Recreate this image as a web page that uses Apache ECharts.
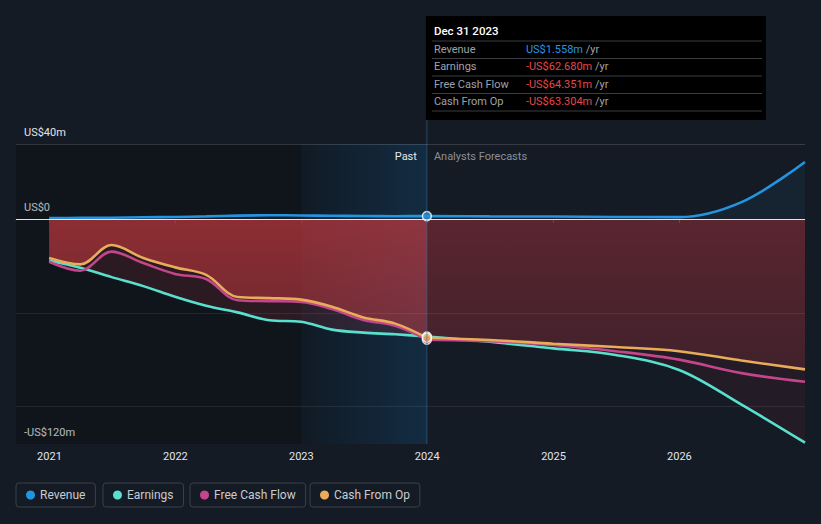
<!DOCTYPE html>
<html><head><meta charset="utf-8">
<script src="https://cdn.jsdelivr.net/npm/echarts@6/dist/echarts.min.js"></script>
<style>html,body{margin:0;padding:0;background:#151b24;}#c{width:821px;height:524px;}</style>
</head><body><div id="c"></div>
<script>
// ---------- data (US$ millions) ----------
const pastDates = ['2020-12-31','2021-03-31','2021-06-30','2021-09-30','2021-12-31','2022-03-31','2022-06-30','2022-09-30','2022-12-31','2023-03-31','2023-06-30','2023-09-30','2023-12-31'];
const revenuePast  = [0.5, 0.6, 0.7, 0.9, 1.1, 1.4, 1.8, 2.0, 1.9, 1.7, 1.6, 1.5, 1.558];
const earningsPast = [-22.3, -26.0, -31.0, -35.8, -41.5, -46.3, -49.8, -54.0, -54.8, -59.0, -60.6, -61.5, -62.68];
const fcfPast      = [-22.8, -27.6, -17.4, -23.5, -29.3, -32.0, -43.3, -43.8, -44.2, -48.0, -53.8, -57.0, -64.351];
const cfoPast      = [-20.8, -24.2, -13.9, -20.8, -25.8, -29.8, -41.6, -42.2, -43.0, -46.8, -52.5, -55.8, -63.304];

const forecastDates = ['2023-12-31','2024-06-30','2024-12-31','2025-06-30','2025-12-31','2026-06-30','2026-12-31'];
const revenueFc  = [1.558, 1.4, 1.3, 1.1, 1.0, 9.0, 30.4];
const earningsFc = [-62.68, -65.5, -69.0, -72.5, -80.5, -99.0, -119.3];
const fcfFc      = [-64.351, -65.2, -67.2, -70.5, -75.0, -82.2, -86.8];
const cfoFc      = [-63.304, -64.5, -66.5, -68.3, -70.5, -75.5, -80.2];

const yTickLabels = {40: 'US$40m', 0: 'US$0', '-120': '-US$120m'};
const gridValues = [40, -50, -100];
const xMin = '2020-09-26', xMax = '2026-12-31';
const pastShadeStart = '2023-01-01', nowDate = '2023-12-31';
const tooltipTitle = 'Dec 31 2023';
const seriesNames = ['Revenue', 'Earnings', 'Free Cash Flow', 'Cash From Op'];
const colors = ['#2394df', '#58e0cd', '#c4458a', '#e8ac5a'];

// ---------- chart ----------
const FONT = 'Roboto, "Noto Sans", sans-serif';
const chart = echarts.init(document.getElementById('c'), null, {renderer: 'svg'});
const zip = (d, v) => d.map((x, i) => [x, v[i]]);

function lineSeries(name, color, dates, vals, area, z) {
  const s = {
    name, type: 'line', color, data: zip(dates, vals), smooth: 0.35,
    symbol: 'none', z: z || 2, silent: true,
    lineStyle: {width: 2.6, color},
  };
  if (area) s.areaStyle = area;
  return s;
}
const grad = (a, b) => new echarts.graphic.LinearGradient(0, 0, 0, 1, [{offset: 0, color: a}, {offset: 1, color: b}]);

const series = [
  { name: 'bgDark', type: 'line', data: [], z: 1, silent: true,
    markArea: { silent: true, itemStyle: {color: 'rgba(0,0,0,0.2)'}, data: [[{xAxis: xMin}, {xAxis: nowDate}]] } },
  lineSeries('Revenue', colors[0], pastDates, revenuePast, {color: 'rgba(35,148,223,0.12)'}),
  lineSeries('Revenue', colors[0], forecastDates, revenueFc, {color: 'rgba(35,148,223,0.11)'}),
  lineSeries('Earnings', colors[1], pastDates, earningsPast, {color: 'rgba(200,60,80,0.22)'}),
  lineSeries('Earnings', colors[1], forecastDates, earningsFc, {color: 'rgba(200,40,50,0.12)'}),
  lineSeries('Free Cash Flow', colors[2], pastDates, fcfPast, null),
  lineSeries('Free Cash Flow', colors[2], forecastDates, fcfFc, null),
  lineSeries('Cash From Op', colors[3], pastDates, cfoPast, {color: grad('rgba(205,58,62,0.86)', 'rgba(200,58,62,0.62)')}),
  lineSeries('Cash From Op', colors[3], forecastDates, cfoFc, {color: grad('rgba(205,60,70,0.46)', 'rgba(200,60,70,0.26)')}),
  { name: 'overlay', type: 'line', data: [], z: 3, silent: true,
    markArea: { silent: true,
      itemStyle: {color: new echarts.graphic.LinearGradient(0, 0, 1, 0, [{offset: 0, color: 'rgba(33,150,243,0.04)'}, {offset: 1, color: 'rgba(33,150,243,0.18)'}])},
      data: [[{xAxis: pastShadeStart}, {xAxis: nowDate}]] },
    markLine: { silent: true, symbol: 'none', label: {show: false},
      data: gridValues.map(v => ({yAxis: v, lineStyle: {color: v === 40 ? 'rgba(255,255,255,0.15)' : 'rgba(255,255,255,0.08)', width: 1, type: 'solid'}}))
        .concat([{yAxis: 0, lineStyle: {color: 'rgba(255,240,240,0.9)', width: 1, type: 'solid'}}]) } },
  { name: 'markers', type: 'scatter', z: 4, silent: true, symbolSize: 9,
    data: [
      {value: [nowDate, earningsPast[12]], itemStyle: {color: colors[1]}},
      {value: [nowDate, fcfPast[12]], itemStyle: {color: colors[2]}},
      {value: [nowDate, cfoPast[12]], itemStyle: {color: colors[3]}},
      {value: [nowDate, revenuePast[12]], itemStyle: {color: colors[0]}},
    ],
    itemStyle: {borderColor: '#ffffff', borderWidth: 1.5} },
];

const legendLefts = [16, 103, 190, 310];
const legends = seriesNames.map((n, i) => ({
  data: [n], left: legendLefts[i], top: 483, selectedMode: false,
  icon: 'circle', itemWidth: 9, itemHeight: 9, itemGap: 0,
  textStyle: {color: '#c8ccd2', fontSize: 12, fontFamily: FONT},
  borderColor: '#3a4049', borderWidth: 1, borderRadius: 3, padding: [6, 10, 6, 10],
}));

chart.setOption({
  backgroundColor: '#151b24',
  animation: false,
  textStyle: {fontFamily: FONT},
  grid: {left: 16, right: 16, top: 144, bottom: 80},
  legend: legends,
  xAxis: {
    type: 'time', min: xMin, max: xMax, splitNumber: 6,
    axisLine: {show: true, lineStyle: {color: '#454a52', width: 1}},
    axisTick: {show: true, length: 4, lineStyle: {color: '#454a52'}},
    splitLine: {show: false},
    axisLabel: {
      color: '#e2e4e8', fontSize: 11, margin: 7, showMinLabel: false, showMaxLabel: false,
      formatter: v => { const d = new Date(v); return (d.getMonth() === 0 && d.getDate() === 1) ? String(d.getFullYear()) : ''; }
    },
  },
  yAxis: {
    type: 'value', min: -120, max: 40, interval: 40,
    axisLine: {show: false}, axisTick: {show: false}, splitLine: {show: false},
    axisLabel: {
      inside: true, margin: 8, color: '#e2e4e8', fontSize: 11, verticalAlign: 'bottom', padding: [0, 0, 6, 0],
      formatter: v => yTickLabels[v] || ''
    },
  },
  series,
});

// ---------- tooltip-like box & labels ----------
const x0 = chart.convertToPixel({xAxisIndex: 0}, nowDate);
const yBottom = chart.convertToPixel({yAxisIndex: 0}, -120);
const fmt = v => (v < 0 ? '-' : '') + 'US$' + Math.abs(v).toFixed(3) + 'm';
const rows = [
  ['Revenue', revenuePast[12]],
  ['Earnings', earningsPast[12]],
  ['Free Cash Flow', fcfPast[12]],
  ['Cash From Op', cfoPast[12]],
];
const bx = x0 - 1, by = 16, bw = 340, bh = 104;
const F11 = '11px ' + FONT;
const g = [
  {type: 'line', z: 50, silent: true, shape: {x1: x0, y1: by + bh, x2: x0, y2: yBottom}, style: {stroke: 'rgba(60,110,150,0.55)', lineWidth: 1}},
  {type: 'rect', z: 60, silent: true, shape: {x: bx, y: by, width: bw, height: bh}, style: {fill: '#000000'}},
  {type: 'text', z: 61, silent: true, x: bx + 8, y: 31, style: {text: tooltipTitle, fill: '#ffffff', font: '500 11.5px ' + FONT, verticalAlign: 'middle'}},
  {type: 'text', z: 61, silent: true, x: x0 - 10, y: 156, style: {text: 'Past', fill: '#e6e8eb', font: F11, align: 'right', verticalAlign: 'middle'}},
  {type: 'text', z: 61, silent: true, x: x0 + 7, y: 156, style: {text: 'Analysts Forecasts', fill: '#8a8f98', font: F11, align: 'left', verticalAlign: 'middle'}},
];
const sepYs = [41, 58.5, 76, 93.5, 111];
sepYs.forEach(y => g.push({type: 'line', z: 61, silent: true, shape: {x1: bx + 6, y1: y, x2: bx + bw - 4, y2: y}, style: {stroke: '#3a3d42', lineWidth: 1}}));
rows.forEach((r, i) => {
  const y = 49.5 + i * 17.4;
  g.push({type: 'text', z: 61, silent: true, x: bx + 8, y, style: {text: r[0], fill: '#9ea3aa', font: F11, verticalAlign: 'middle'}});
  g.push({type: 'text', z: 61, silent: true, x: bx + 100, y, style: {
    text: '{v|' + fmt(r[1]) + '} {u|/yr}', verticalAlign: 'middle', font: F11,
    rich: {v: {fill: r[1] < 0 ? '#e5484a' : '#2a95e0', font: F11}, u: {fill: '#9ea3aa', font: F11}}
  }});
});
chart.setOption({graphic: g});
</script>
</body></html>
